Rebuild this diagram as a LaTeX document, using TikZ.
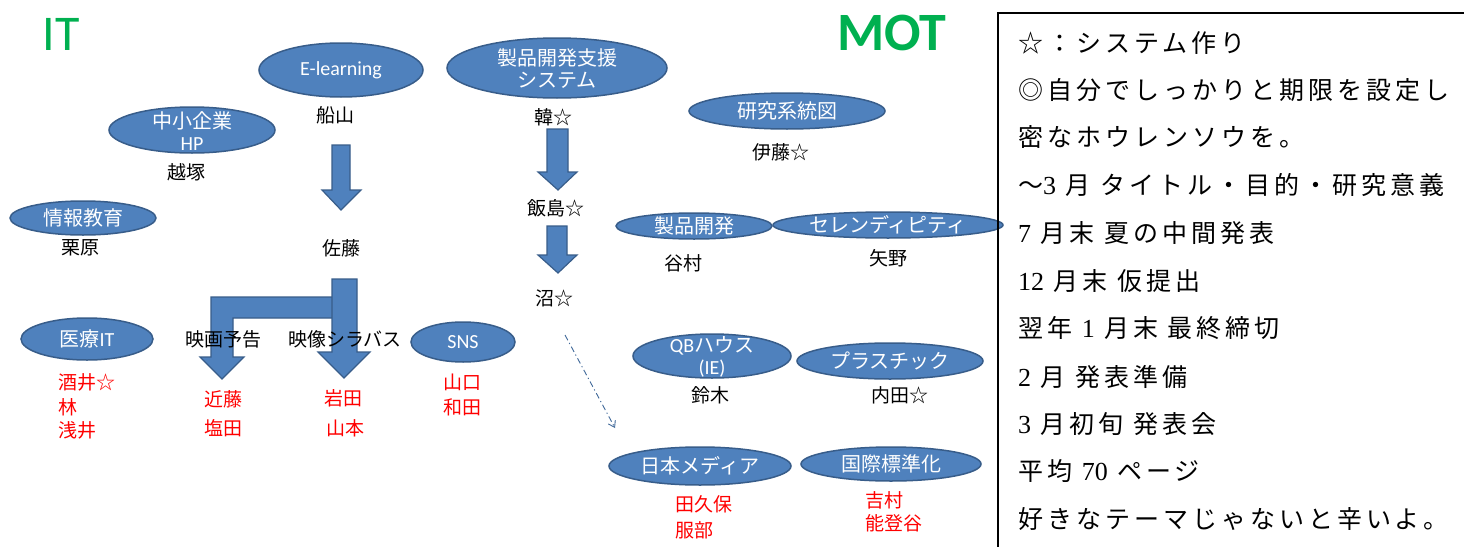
\documentclass[tikz,border=0pt]{standalone}
\usepackage{fontspec}
\usetikzlibrary{arrows.meta}
\newfontfamily\jp{Noto Sans CJK JP}
\newfontfamily\lat{Carlito}
\newfontfamily\digitfont{Liberation Serif}
\newfontfamily\boxjp[LetterSpace=16]{Noto Sans CJK JP}
\definecolor{ovalfill}{HTML}{4F81BD}
\definecolor{ovalline}{HTML}{385D8A}
\definecolor{titlegreen}{HTML}{00B050}
\definecolor{namered}{HTML}{FF0000}
\tikzset{
  ovalshape/.style={fill=ovalfill, draw=ovalline, line width=1.5pt},
  ovaltext/.style={text=white, font=\jp\fontsize{20}{22}\selectfont, align=center, inner sep=0pt},
  person/.style={font=\jp\fontsize{19}{24}\selectfont, inner sep=0pt},
  rperson/.style={person, text=namered},
  barrow/.style={fill=ovalfill, draw=ovalline, line width=1.2pt, line join=miter},
  boxline/.style={font=\boxjp\fontsize{25}{30}\selectfont, anchor=west, inner sep=0pt},
  greentitle/.style={text=titlegreen, inner sep=0pt},
  dda/.style={draw=ovalline!70!ovalfill, line width=0.9pt, dash pattern=on 6pt off 3pt on 1.2pt off 3pt, -{Straight Barb[length=6pt,width=8pt]}}
}
\newcommand{\dg}[1]{{\digitfont\fontsize{26}{30}\selectfont #1}}
\begin{document}
\begin{tikzpicture}[x=1pt,y=-1pt]
\useasboundingbox (0,0) rectangle (1464,546);
\fill[white] (0,0) rectangle (1464,546);

% titles
\node[greentitle, font=\lat\fontsize{50}{50}\selectfont] (it) at (61,34) {IT};
\node[greentitle, font=\lat\bfseries\fontsize{54}{54}\selectfont] (mot) at (892,33) {MOT};

% ovals
\path[ovalshape] (341,70) ellipse [x radius=82, y radius=27];
\node[ovaltext] (elearn) at (341,70) {\lat E-learning};
\path[ovalshape] (192,130) ellipse [x radius=83, y radius=23];
\node[ovaltext] (chusho) at (192,131) {中小企業\\{\lat HP}};
\path[ovalshape] (83,218) ellipse [x radius=73, y radius=17];
\node[ovaltext] (joho) at (83,218) {情報教育};
\path[ovalshape] (557,68) ellipse [x radius=110, y radius=30];
\node[ovaltext] (seihinshien) at (557,68.5) {製品開発支援\\システム};
\path[ovalshape] (787,111) ellipse [x radius=98, y radius=18];
\node[ovaltext] (kenkyu) at (787,111) {研究系統図};
\path[ovalshape] (694,226) ellipse [x radius=78, y radius=13];
\node[ovaltext] (seihin) at (694,226) {製品開発};
\path[ovalshape] (888,225) ellipse [x radius=115, y radius=13];
\node[ovaltext] (seren) at (888,225) {セレンディピティ};
\path[ovalshape] (87,339) ellipse [x radius=66, y radius=21];
\node[ovaltext] (iryo) at (87,339) {医療{\lat IT}};
\path[ovalshape] (463,342) ellipse [x radius=52, y radius=20];
\node[ovaltext] (sns) at (463,342) {\lat SNS};
\path[ovalshape] (712,356) ellipse [x radius=79, y radius=22];
\node[ovaltext] (qb) at (712,357) {{\lat QB}ハウス\\{\lat (IE)}};
\path[ovalshape] (890,361) ellipse [x radius=93, y radius=18];
\node[ovaltext] (plastic) at (890,361) {プラスチック};
\path[ovalshape] (700,466) ellipse [x radius=91, y radius=19];
\node[ovaltext] (nihon) at (700,466) {日本メディア};
\path[ovalshape] (891,464) ellipse [x radius=90, y radius=17];
\node[ovaltext] (kokusai) at (891,464) {国際標準化};

% block arrows
\draw[barrow] (332,145) -- (350,145) -- (350,190) -- (361,190) -- (341,210) -- (322,190) -- (332,190) -- cycle;
\draw[barrow] (547,129) -- (568,129) -- (568,172) -- (577,172) -- (558,190) -- (538,172) -- (547,172) -- cycle;
\draw[barrow] (547,226) -- (567,226) -- (567,255) -- (577,255) -- (558,273) -- (538,255) -- (547,255) -- cycle;
\draw[barrow] (345,297) -- (211,297) -- (211,357) -- (200,357) -- (222,379) -- (244,357) -- (233,357) -- (233,318) -- (345,318) -- cycle;
\draw[barrow] (332,279) -- (357,279) -- (357,352) -- (370,352) -- (344,378) -- (318,352) -- (332,352) -- cycle;

% black names
\node[person] (funayama) at (335,115) {船山};
\node[person] (koshizuka) at (186,172) {越塚};
\node[person] (kurihara) at (80,248) {栗原};
\node[person] (sato) at (341,248) {佐藤};
\node[person] (eiga) at (223,339) {映画予告};
\node[person] (eizo) at (345,339) {映像シラバス};
\node[person] (kan) at (553,117) {韓☆};
\node[person] (iijima) at (556,208) {飯島☆};
\node[person] (numa) at (554,298) {沼☆};
\node[person] (ito) at (781,152) {伊藤☆};
\node[person] (tanimura) at (683,263) {谷村};
\node[person] (yano) at (888,258) {矢野};
\node[person] (suzuki) at (710,395) {鈴木};
\node[person] (uchida) at (900,395) {内田☆};

% red names
\node[rperson, anchor=west] (sakai) at (58,382) {酒井☆};
\node[rperson, anchor=west] (hayashi) at (58,407) {林};
\node[rperson, anchor=west] (asai) at (58,430) {浅井};
\node[rperson] (kondo) at (223,399) {近藤};
\node[rperson] (shioda) at (223,428) {塩田};
\node[rperson] (iwata) at (343,398) {岩田};
\node[rperson] (yamamoto) at (345,428) {山本};
\node[rperson] (yamaguchi) at (462,382) {山口};
\node[rperson] (wada) at (462,407) {和田};
\node[rperson, anchor=west] (kubo) at (675,504) {田久保};
\node[rperson, anchor=west] (hattori) at (675,530) {服部};
\node[rperson, anchor=west] (yoshimura) at (865,500) {吉村};
\node[rperson, anchor=west] (notoya) at (865,523) {能登谷};

% dash-dot connector
\coordinate (ddstart) at (565,335);
\coordinate (ddend) at (615,428);
\draw[dda] (ddstart) -- (ddend);

% note box
\draw[line width=2pt] (998,550) -- (998,13) -- (1468,13);
\node[boxline] (b1) at (1018,43) {☆：システム作り};
\node[boxline] (b2) at (1018,90) {◎自分でしっかりと期限を設定し};
\node[boxline] (b3) at (1018,137) {密なホウレンソウを。};
\node[boxline] (b4) at (1018,185) {〜\dg{3} 月\hspace{0.4em}タイトル・目的・研究意義};
\node[boxline] (b5) at (1018,233) {\dg{7} 月末 夏の中間発表};
\node[boxline] (b6) at (1018,281) {\dg{12} 月末 仮提出};
\node[boxline] (b7) at (1018,328) {翌年 \dg{1} 月末 最終締切};
\node[boxline] (b8) at (1018,377) {\dg{2} 月\hspace{0.4em}発表準備};
\node[boxline] (b9) at (1018,424) {\dg{3} 月初旬 発表会};
\node[boxline] (b10) at (1018,471) {平均 \dg{70} ページ};
\node[boxline] (b11) at (1018,519) {好きなテーマじゃないと辛いよ。};
\end{tikzpicture}
\end{document}
